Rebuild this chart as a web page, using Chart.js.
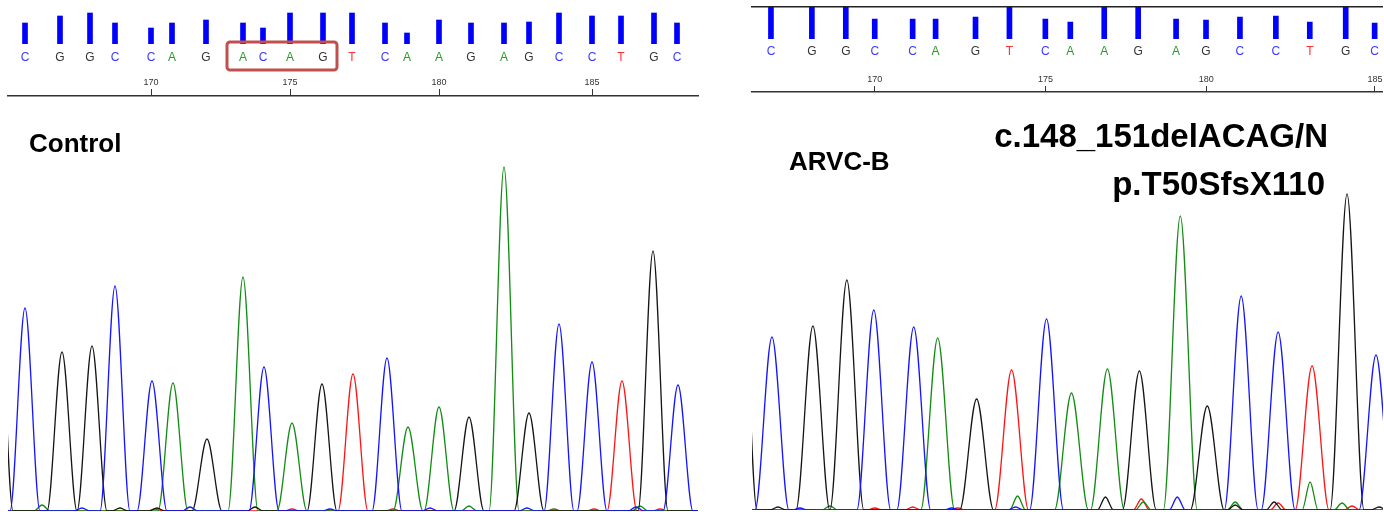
<!DOCTYPE html>
<html>
<head>
<meta charset="utf-8">
<script src="https://cdn.jsdelivr.net/npm/chart.js@4.4.1/dist/chart.umd.min.js"></script>
<style>
body { margin:0; background:#fff; width:1384px; height:512px; overflow:hidden; position:relative; font-family:"Liberation Sans", Arial, sans-serif; }
canvas { position:absolute; top:0; }
.lbl { position:absolute; font-weight:bold; line-height:1; white-space:nowrap; color:#000; }
</style>
</head>
<body>
<canvas id="ctrlTrace" width="700" height="512" style="left:0"></canvas>
<canvas id="ctrlCalls" width="700" height="75" style="left:0"></canvas>
<canvas id="mutTrace" width="634" height="512" style="left:750px"></canvas>
<canvas id="mutCalls" width="634" height="70" style="left:750px"></canvas>

<div class="lbl" style="left:29px;top:130px;font-size:26px">Control</div>
<div class="lbl" style="left:789px;top:148px;font-size:26px">ARVC-B</div>
<div class="lbl" style="right:56px;top:119px;font-size:33px">c.148_151delACAG/N</div>
<div class="lbl" style="right:59px;top:167px;font-size:33px">p.T50SfsX110</div>

<script>
// control sample (left) - base calls, scan position of each call, quality bar
const ctrlFirst = 166;
const ctrlBases = ['C','G','G','C','C','A','G','A','C','A','G','T','C','A','A','G','A','G','C','C','T','G','C'];
const ctrlCallX = [25,60,90,115,151,172,206,243,263,290,323,352,385,407,439,471,504,529,559,592,621,654,677];
const ctrlQual = [21,28,31,21,16,21,24,21,16,31,31,31,21,11,24,21,21,22,31,28,28,31,21];

// control trace peaks
const ctrlPeakX = [-2,25,62,92,115,152,173,207,243,264,292,322,353,387,408,439,469,504,529,559,592,622,653,678];
const ctrlPeakH = [240,203,159,165,225,130,128,72,234,144,88,127,137,153,84,104,94,344,98,187,149,130,260,126];
const ctrlPeakB = ['G','C','G','G','C','C','A','G','A','C','A','G','T','C','A','A','G','A','G','C','C','T','G','C'];
// small baseline bumps
const ctrlNoiseX = [42,82,120,157,155,190,255,292,330,393,430,469,527,554,594,640,636,660];
const ctrlNoiseH = [6,3,3,3,2,4,4,2,2,2,3,5,3,2,2,5,4,2];
const ctrlNoiseB = ['A','C','G','G','T','C','G','T','C','T','C','A','C','A','T','A','C','T'];

// ARVC-B sample (right)
const mutFirst = 167;
const mutBases = ['C','G','G','C','C','A','G','T','C','A','A','G','A','G','C','C','T','G','C'];
const mutCallX = [771,812,846,875,913,936,976,1010,1046,1071,1105,1139,1177,1207,1241,1277,1311,1347,1376];
const mutQual = [36,36,36,20,20,20,22,36,20,17,36,36,20,19,22,23,17,36,16];

const mutPeakX = [740,772,813,847,874,914,938,977,1012,1047,1072,1108,1140,1181,1208,1242,1279,1313,1348,1377];
const mutPeakH = [300,173,184,230,200,183,172,111,140,191,117,141,139,294,104,214,178,144,316,155];
const mutPeakB = ['G','C','G','G','C','C','A','G','T','C','A','A','G','A','G','C','C','T','G','C'];
const mutNoiseX = [778,800,830,875,913,952,958,1018,1016,1106,1142,1144,1178,1236,1236,1275,1279,1311,1343,1353,1380];
const mutNoiseH = [3,2,4,2,3,2,2,14,3,13,11,8,13,8,5,8,7,28,7,4,3];
const mutNoiseB = ['G','C','A','T','T','C','T','A','C','G','T','A','C','A','G','G','T','A','A','T','G'];

const tickBases = [170,175,180,185];
const boxBases = [173,176];

const traceColor = { A:'#128c12', C:'#1414ff', G:'#151515', T:'#ff1414' };
const letterColor = { A:'#2a9a2a', C:'#3a3aff', G:'#333333', T:'#ff3030' };

Chart.defaults.font.family = "'Liberation Sans', Arial, sans-serif";
Chart.defaults.animation = false;

function traceData(base, px, ph, pb, nx, nh, nb, hw){
    const pts = [];
    px.forEach((x, i) => {
        if(pb[i] === base){
            pts.push({x:x-hw, y:0}, {x:x, y:ph[i]}, {x:x+hw, y:0});
        }
    });
    nx.forEach((x, i) => {
        if(nb[i] === base){
            pts.push({x:x-8, y:0}, {x:x, y:nh[i]}, {x:x+8, y:0});
        }
    });
    pts.push({x:-100, y:0}, {x:2000, y:0});
    pts.sort((a, b) => a.x - b.x);
    return pts;
}

function traceChart(id, px, ph, pb, nx, nh, nb, hw, calls, first, range, pad, yMax, labelPad, tickLen){
    const datasets = ['C','G','A','T'].map(b => ({
        data: traceData(b, px, ph, pb, nx, nh, nb, hw),
        borderColor: traceColor[b],
        borderWidth: 1.3,
        pointRadius: 0,
        cubicInterpolationMode: 'monotone',
        fill: false
    }));
    new Chart(document.getElementById(id), {
        type: 'line',
        data: { datasets },
        options: {
            responsive: false,
            layout: { padding: pad },
            plugins: { legend:{display:false}, tooltip:{enabled:false} },
            scales: {
                x: {
                    type: 'linear', position: 'top', min: range[0], max: range[1],
                    afterBuildTicks: s => { s.ticks = tickBases.map(b => ({value: calls[b - first]})); },
                    afterFit: s => { s.height = 20; },
                    ticks: { callback: (v, i) => tickBases[i], color:'#333', font:{size:9}, padding: labelPad, autoSkip:false, maxRotation:0 },
                    grid: { display:true, drawOnChartArea:false, drawTicks:true, tickLength: tickLen, tickColor:'#333', tickWidth:1 },
                    border: { display:true, color:'#333', width:1.5 }
                },
                y: { display:false, min:0, max:yMax }
            }
        }
    });
}

function callsChart(id, bases, calls, qual, range, pad, yMax, letterPad, topLine, plugins){
    const scales = {
        x: {
            type: 'linear', position: 'bottom', min: range[0], max: range[1], offset: false,
            afterBuildTicks: s => { s.ticks = calls.map(v => ({value: v})); },
            afterFit: s => { s.height = 22; },
            ticks: {
                callback: (v, i) => bases[i],
                color: c => letterColor[bases[c.index]],
                font: { size: 12 }, padding: letterPad, autoSkip:false, maxRotation:0
            },
            grid: { display:false, drawTicks:false },
            border: { display:false }
        },
        y: { display:false, min:0, max:yMax }
    };
    if(topLine){
        scales.xTop = {
            type: 'linear', position: 'top', min: range[0], max: range[1],
            afterFit: s => { s.height = 0; },
            ticks: { display:false },
            grid: { display:false, drawTicks:false },
            border: { display:true, color:'#222', width:1.5 }
        };
    }
    new Chart(document.getElementById(id), {
        type: 'bar',
        data: {
            datasets: [{
                data: qual.map((q, i) => ({x: calls[i], y: q})),
                backgroundColor: '#0000ff',
                barThickness: 5,
                clip: 0
            }]
        },
        options: {
            responsive: false,
            layout: { padding: pad },
            plugins: { legend:{display:false}, tooltip:{enabled:false} },
            scales
        },
        plugins: plugins
    });
}

// red box round the deleted bases in the control
const deletionBox = {
    id: 'deletionBox',
    afterDraw(chart){
        const xs = chart.scales.x;
        const c = chart.ctx;
        const x1 = xs.getPixelForValue(ctrlCallX[boxBases[0] - ctrlFirst]) - 16;
        const x2 = xs.getPixelForValue(ctrlCallX[boxBases[1] - ctrlFirst]) + 14;
        c.save();
        c.strokeStyle = '#c0504d';
        c.lineWidth = 3;
        c.beginPath();
        c.roundRect(x1, 42, x2 - x1, 28, 3);
        c.stroke();
        c.restore();
    }
};

traceChart('ctrlTrace', ctrlPeakX, ctrlPeakH, ctrlPeakB, ctrlNoiseX, ctrlNoiseH, ctrlNoiseB, 15,
    ctrlCallX, ctrlFirst, [8, 698], {left:8, right:2, top:76, bottom:1}, 415, 1, 7);
callsChart('ctrlCalls', ctrlBases, ctrlCallX, ctrlQual, [8, 698], {left:8, right:2, top:0, bottom:9}, 44, 6, false, [deletionBox]);

traceChart('mutTrace', mutPeakX, mutPeakH, mutPeakB, mutNoiseX, mutNoiseH, mutNoiseB, 17,
    mutCallX, mutFirst, [752, 1384], {left:2, right:0, top:72, bottom:2}, 418, 1.5, 6);
callsChart('mutCalls', mutBases, mutCallX, mutQual, [752, 1384], {left:2, right:0, top:7, bottom:9}, 32, 5, true, []);
</script>
</body>
</html>
